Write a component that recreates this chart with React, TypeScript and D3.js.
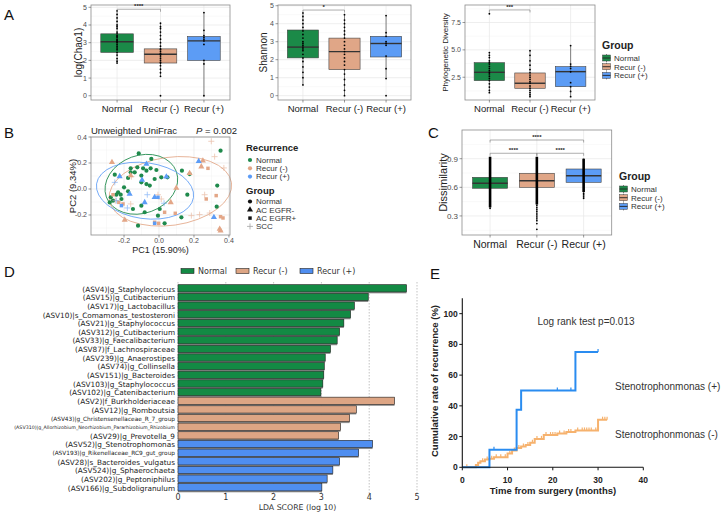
import React from 'react';
import * as d3 from 'd3';

const FONT = "'Liberation Sans', Arial, Helvetica, sans-serif";
const DV = "'DejaVu Sans', Verdana, sans-serif";

const groups = ['Normal', 'Recur (-)', 'Recur (+)'];
const boxColors = ['#1b8a48', '#e0a687', '#5c9cf5'];

// Panel A: [min, q1, median, q3, max]
const chaoStats = [[1.85, 2.45, 3.05, 3.5, 4.8], [1.1, 1.85, 2.35, 2.65, 4.1], [0, 2.0, 3.1, 3.35, 4.7]];
const chaoDots = [
  [1.85, 1.95, 2.1, 2.3, 2.45, 2.6, 2.7, 2.8, 2.9, 3.0, 3.05, 3.1, 3.15, 3.2, 3.3, 3.35, 3.4, 3.5, 3.6, 3.8, 3.9, 4.0, 4.2, 4.4, 4.6, 4.8],
  [0, 1.1, 1.3, 1.5, 1.7, 1.85, 1.9, 2.0, 2.1, 2.2, 2.3, 2.35, 2.4, 2.5, 2.6, 2.65, 2.8, 3.0, 3.2, 3.4, 3.6, 3.8, 3.9, 4.1],
  [0, 1.8, 2.0, 2.9, 3.1, 3.2, 3.3, 3.4, 3.7, 4.7],
];
const shannonStats = [[0.6, 2.1, 2.7, 3.65, 4.6], [0, 1.45, 2.45, 3.2, 4.5], [0.95, 2.15, 2.9, 3.3, 4.45]];
const shannonDots = [
  [0.6, 1.0, 1.3, 1.6, 1.9, 2.1, 2.3, 2.5, 2.6, 2.7, 2.8, 2.9, 3.0, 3.2, 3.4, 3.6, 3.8, 4.0, 4.2, 4.4, 4.6],
  [0, 0.3, 0.6, 0.9, 1.2, 1.45, 1.7, 1.9, 2.1, 2.3, 2.45, 2.6, 2.8, 3.0, 3.2, 3.4, 3.6, 3.8, 4.0, 4.2, 4.5],
  [0, 0.95, 1.5, 2.2, 2.8, 2.9, 3.0, 3.3, 3.5, 4.45],
];
const pdStats = [[1.09, 2.19, 2.95, 3.83, 4.75], [0.72, 1.49, 1.95, 2.89, 4.93], [0.72, 1.64, 3.01, 3.47, 5.39]];
const pdDots = [
  [1.09, 1.3, 1.6, 1.9, 2.2, 2.4, 2.6, 2.8, 2.95, 3.1, 3.3, 3.5, 3.7, 3.83, 4.0, 4.3, 4.5, 4.75, 8.3],
  [0.72, 0.9, 1.1, 1.3, 1.5, 1.7, 1.95, 2.1, 2.3, 2.5, 2.7, 2.9, 3.2, 3.6, 4.0, 4.5, 4.93],
  [0.72, 1.2, 1.64, 2.0, 3.0, 3.3, 3.5, 3.7, 5.39],
];

// Panel C
const dissStats = [[0.38, 0.59, 0.642, 0.705, 0.921], [0.414, 0.60, 0.669, 0.747, 0.921], [0.485, 0.652, 0.722, 0.792, 0.904]];
const dissDense = [[0.39, 0.92], [0.42, 0.92], [0.55, 0.9]];
const dissDots = [
  [0.38, 0.4, 0.42],
  [0.16, 0.22, 0.25, 0.27, 0.29, 0.31, 0.33, 0.35, 0.37, 0.39, 0.41],
  [0.485, 0.5, 0.52, 0.535],
];

// Panel B: [PC1, PC2, recurrence index, group index]
const recurrenceNames = ['Normal', 'Recur (-)', 'Recur (+)'];
const shapeGroups = ['Normal', 'AC EGFR-', 'AC EGFR+', 'SCC'];
const scatterColors = ['#1f8a4c', '#e3a687', '#5c9cf6'];
const pcoaPoints = [
  [-0.116, 0.274, 0, 0], [-0.044, 0.231, 0, 0], [-0.162, 0.159, 0, 0], [-0.124, 0.167, 0, 0], [-0.091, 0.159, 0, 0],
  [-0.048, 0.159, 0, 0], [-0.162, 0.128, 0, 0], [-0.139, 0.128, 0, 0], [-0.101, 0.103, 0, 0], [-0.072, 0.141, 0, 0],
  [-0.015, 0.146, 0, 0], [-0.025, 0.077, 0, 0], [-0.101, 0.051, 0, 0], [-0.072, 0.038, 0, 0], [-0.053, 0.026, 0, 0],
  [0.013, 0.09, 0, 0], [0.048, 0.09, 0, 0], [0.131, 0.141, 0, 0], [0.175, 0.115, 0, 0], [-0.2, 0.013, 0, 0],
  [-0.177, -0.018, 0, 0], [-0.234, -0.026, 0, 0], [-0.244, -0.044, 0, 0], [-0.215, -0.077, 0, 0], [-0.276, -0.064, 0, 0],
  [-0.282, -0.103, 0, 0], [-0.263, -0.09, 0, 0], [-0.101, -0.128, 0, 0], [-0.149, -0.154, 0, 0], [-0.082, -0.179, 0, 0],
  [0.004, -0.154, 0, 0], [-0.006, -0.205, 0, 0], [0.032, -0.264, 0, 0], [-0.12, -0.282, 0, 0], [0.162, -0.044, 0, 0],
  [0.352, 0.295, 0, 0], [0.333, 0.026, 0, 0], [0.33, -0.136, 0, 0], [0.128, -0.218, 0, 0], [-0.177, 0.085, 0, 0],
  [-0.253, 0.11, 0, 0], [-0.219, -0.044, 0, 0],
  [-0.269, 0.205, 1, 1], [0.242, 0.172, 1, 1], [0.175, 0.121, 1, 1], [-0.196, -0.238, 1, 1], [0.099, 0.008, 1, 1],
  [0.067, -0.103, 1, 1], [-0.162, 0.103, 1, 1], [0.347, -0.308, 1, 1], [0.352, -0.321, 1, 1], [0.251, 0.218, 1, 1],
  [-0.263, -0.044, 1, 2], [-0.23, -0.103, 1, 2], [-0.206, -0.115, 1, 2], [0.327, -0.051, 1, 2], [0.27, -0.077, 1, 2],
  [0.032, -0.179, 1, 2], [-0.025, -0.256, 1, 2], [-0.002, -0.264, 1, 2], [0.352, -0.213, 1, 2], [0.366, -0.223, 1, 2],
  [0.093, -0.187, 1, 2], [0.28, 0.159, 1, 2],
  [0.299, 0.367, 1, 3], [0.318, 0.249, 1, 3], [0.371, 0.162, 1, 3], [0.261, -0.044, 1, 3], [-0.006, -0.044, 1, 3],
  [0.013, -0.077, 1, 3], [0.185, -0.205, 1, 3], [0.232, -0.197, 1, 3], [0.29, -0.185, 1, 3], [-0.162, -0.115, 1, 3],
  [-0.25, -0.09, 1, 3], [-0.158, 0.095, 1, 3],
  [-0.225, 0.097, 2, 1], [0.227, 0.213, 2, 1], [-0.097, 0.069, 2, 1], [-0.025, -0.064, 2, 1], [-0.082, -0.103, 2, 1],
  [0.042, 0.095, 2, 1], [0.314, -0.218, 2, 1], [-0.072, 0.192, 2, 1], [-0.168, -0.038, 2, 1],
  [-0.215, -0.128, 2, 2], [-0.025, -0.264, 2, 2], [-0.006, -0.064, 2, 2],
  [-0.253, 0.051, 2, 3], [-0.244, -0.09, 2, 3], [-0.067, -0.044, 2, 3], [0.029, -0.11, 2, 3], [-0.181, -0.146, 2, 3],
];
// confidence ellipses: [cx, cy, rx, ry, angle]
const pcoaEllipses = [
  [-0.101, 0.036, 0.213, 0.222, -20],
  [0.065, -0.018, 0.353, 0.262, -8],
  [-0.08, -0.013, 0.28, 0.215, 8],
];

// Panel D
const ldaLabels = [
  '(ASV4)|g_Staphylococcus', '(ASV15)|g_Cutibacterium', '(ASV17)|g_Lactobacillus', '(ASV10)|s_Comamonas_testosteroni',
  '(ASV21)|g_Staphylococcus', '(ASV312)|g_Cutibacterium', '(ASV33)|g_Faecalibacterium', '(ASV87)|f_Lachnospiraceae',
  '(ASV239)|g_Anaerostipes', '(ASV74)|g_Collinsella', '(ASV151)|g_Bacteroides', '(ASV103)|g_Staphylococcus',
  '(ASV102)|g_Catenibacterium', '(ASV2)|f_Burkholderiaceae', '(ASV12)|g_Romboutsia', '(ASV43)|g_Christensenellaceae_R_7_group',
  '(ASV310)|g_Allorhizobium_Neorhizobium_Pararhizobium_Rhizobium', '(ASV29)|g_Prevotella_9', '(ASV52)|g_Stenotrophomonas',
  '(ASV193)|g_Rikenellaceae_RC9_gut_group', '(ASV28)|s_Bacteroides_vulgatus', '(ASV524)|g_Sphaerochaeta',
  '(ASV202)|g_Peptoniphilus', '(ASV166)|g_Subdoligranulum',
];
const ldaScores = [4.78, 3.98, 3.69, 3.61, 3.47, 3.38, 3.33, 3.19, 3.08, 3.06, 3.05, 3.03, 2.99, 4.53, 3.73, 3.59, 3.40, 3.36, 4.07, 3.78, 3.38, 3.24, 3.12, 3.01];
const ldaGroup = [0, 0, 0, 0, 0, 0, 0, 0, 0, 0, 0, 0, 0, 1, 1, 1, 1, 1, 2, 2, 2, 2, 2, 2];
const ldaColors = ['#138a44', '#dda584', '#4f8ef0'];
const ldaTicks = [0, 1, 2, 3, 4, 5];

// Panel E
const posSteps = [[0, 0], [6, 11.5], [12, 37.5], [13, 50], [25, 75], [30, 75]];
const posCensor = [7, 21, 24, 30];
const negSteps = [[0, 0], [3, 1.5], [3.5, 3], [4, 4], [5, 5], [6, 5.5], [7, 6.5], [10, 9], [11, 11], [12, 12.5], [13, 13.5], [14, 14.5], [15, 16], [16, 18.5], [18, 21], [21, 22], [23, 23], [25, 24], [30, 31], [32, 31]];
const negCensor = [1, 4.5, 5.5, 6.5, 7.5, 8.5, 9.5, 10.5, 11.5, 12.5, 13.5, 14.5, 15.5, 16.5, 17.5, 18.5, 19.5, 20, 20.5, 21.5, 22.5, 23.5, 24, 25.5, 26.5, 27, 27.5, 28, 28.5, 29.5, 31, 31.5, 32];
const kmXTicks = [0, 10, 20, 30, 40];
const kmYTicks = [0, 20, 40, 60, 80, 100];

function BoxPanel(p: any) {
  const x = d3.scalePoint<string>().domain(groups).range([p.left, p.right]).padding(0.6);
  const y = d3.scaleLinear().domain(p.domain).range([p.bottom, p.top]);
  const bw = x.step() * 0.75;
  return (
    <g>
      {p.minor.map((t: number) => (
        <line key={'m' + t} x1={p.left} x2={p.right} y1={y(t)} y2={y(t)} stroke="#f2f2f2" strokeWidth={0.5} />
      ))}
      {p.ticks.map((t: number) => (
        <line key={'t' + t} x1={p.left} x2={p.right} y1={y(t)} y2={y(t)} stroke="#e6e6e6" strokeWidth={0.7} />
      ))}
      {groups.map((g) => (
        <line key={'v' + g} x1={x(g)} x2={x(g)} y1={p.top} y2={p.bottom} stroke="#e6e6e6" strokeWidth={0.7} />
      ))}
      {p.stats.map((s: number[], i: number) => {
        const cx = x(groups[i])!;
        return (
          <g key={'b' + i}>
            <line x1={cx} x2={cx} y1={y(s[0])} y2={y(s[4])} stroke="#333" strokeWidth={0.6} />
            <rect x={cx - bw / 2} y={y(s[3])} width={bw} height={y(s[1]) - y(s[3])} fill={boxColors[i]} stroke="#444" strokeWidth={0.6} />
            <line x1={cx - bw / 2} x2={cx + bw / 2} y1={y(s[2])} y2={y(s[2])} stroke="#333" strokeWidth={1.4} />
          </g>
        );
      })}
      {p.dense && p.dense.map((r: number[], i: number) => (
        <rect key={'d' + i} x={x(groups[i])! - 1.3} y={y(r[1])} width={2.6} height={y(r[0]) - y(r[1])} fill="#000" />
      ))}
      {p.dots.map((arr: number[], i: number) =>
        arr.map((v, j) => <circle key={'p' + i + '_' + j} cx={x(groups[i])} cy={y(v)} r={0.9} fill="#000" />)
      )}
      <rect x={p.left} y={p.top} width={p.right - p.left} height={p.bottom - p.top} fill="none" stroke="#8c8c8c" strokeWidth={0.8} />
      {p.ticks.map((t: number) => (
        <g key={'l' + t}>
          <line x1={p.left - 2.5} x2={p.left} y1={y(t)} y2={y(t)} stroke="#555" strokeWidth={0.6} />
          <text x={p.left - 4} y={y(t) + p.tickSize * 0.35} fontSize={p.tickSize} fill="#4d4d4d" textAnchor="end">{p.fmt(t)}</text>
        </g>
      ))}
      {groups.map((g) => (
        <g key={'x' + g}>
          <line x1={x(g)} x2={x(g)} y1={p.bottom} y2={p.bottom + 2.5} stroke="#555" strokeWidth={0.6} />
          <text x={x(g)} y={p.labelY} fontSize={p.labelSize} fill="#222" textAnchor="middle">{g}</text>
        </g>
      ))}
      <text transform={`translate(${p.titleX},${(p.top + p.bottom) / 2}) rotate(-90)`} fontSize={p.titleSize} fill="#222" textAnchor="middle">{p.title}</text>
      {p.brackets.map((b: any, k: number) => {
        const x1 = x(groups[b.a])!, x2 = x(groups[b.b])!, yy = y(b.v);
        return (
          <g key={'br' + k}>
            <path d={`M${x1},${yy + 2.5}V${yy}H${x2}V${yy + 2.5}`} fill="none" stroke="#777" strokeWidth={0.6} />
            <text x={(x1 + x2) / 2} y={yy - 1.2} fontSize={6} fontWeight="bold" fill="#222" textAnchor="middle">{b.label}</text>
          </g>
        );
      })}
    </g>
  );
}

function BoxLegend({ x, y }: { x: number; y: number }) {
  return (
    <g>
      <text x={x} y={y} fontSize={10.5} fontWeight="bold" fill="#222">Group</text>
      {groups.map((g, i) => {
        const cy = y + 9 + i * 8.7;
        return (
          <g key={g}>
            <line x1={x + 4.5} x2={x + 4.5} y1={cy - 4} y2={cy + 4} stroke="#333" strokeWidth={0.6} />
            <rect x={x + 0.5} y={cy - 3} width={8} height={6} fill={boxColors[i]} stroke="#444" strokeWidth={0.5} />
            <line x1={x + 0.5} x2={x + 8.5} y1={cy} y2={cy} stroke="#222" strokeWidth={0.9} />
            <text x={x + 12} y={cy + 3} fontSize={8} fill="#333">{g}</text>
          </g>
        );
      })}
    </g>
  );
}

function Marker({ shape, cx, cy, color }: any) {
  if (shape === 0) return <circle cx={cx} cy={cy} r={2.1} fill={color} />;
  if (shape === 1) return <path transform={`translate(${cx},${cy})`} d={d3.symbol(d3.symbolTriangle, 16)()!} fill={color} />;
  if (shape === 2) return <path transform={`translate(${cx},${cy})`} d={d3.symbol(d3.symbolSquare, 12)()!} fill={color} />;
  return <path d={`M${cx - 3},${cy}H${cx + 3}M${cx},${cy - 3}V${cy + 3}`} stroke={color} strokeWidth={0.8} opacity={0.65} />;
}

function PanelB() {
  const L = 91, R = 230, T = 137, B = 235;
  const bx = d3.scaleLinear().domain([-0.389, 0.406]).range([L, R]);
  const by = d3.scaleLinear().domain([-0.354, 0.4]).range([B, T]);
  const ticks = [-0.2, 0, 0.2, 0.4];
  const minor = [-0.3, -0.1, 0.1, 0.3];
  const sx = bx(1) - bx(0), sy = by(0) - by(1);
  return (
    <g>
      {minor.map((t) => (
        <g key={'m' + t}>
          <line x1={bx(t)} x2={bx(t)} y1={T} y2={B} stroke="#f2f2f2" strokeWidth={0.5} />
          <line x1={L} x2={R} y1={by(t)} y2={by(t)} stroke="#f2f2f2" strokeWidth={0.5} />
        </g>
      ))}
      {ticks.map((t) => (
        <g key={'t' + t}>
          <line x1={bx(t)} x2={bx(t)} y1={T} y2={B} stroke="#e6e6e6" strokeWidth={0.7} />
          <line x1={L} x2={R} y1={by(t)} y2={by(t)} stroke="#e6e6e6" strokeWidth={0.7} />
        </g>
      ))}
      {pcoaEllipses.map((e, i) => (
        <ellipse key={'e' + i} transform={`translate(${bx(e[0])},${by(e[1])}) rotate(${e[4]})`} rx={e[2] * sx} ry={e[3] * sy} fill="none" stroke={scatterColors[i]} strokeWidth={0.8} />
      ))}
      {pcoaPoints.map((p, i) => (
        <Marker key={i} shape={p[3]} cx={bx(p[0])} cy={by(p[1])} color={scatterColors[p[2]]} />
      ))}
      <rect x={L} y={T} width={R - L} height={B - T} fill="none" stroke="#8c8c8c" strokeWidth={0.8} />
      {ticks.map((t) => (
        <g key={'l' + t}>
          <line x1={bx(t)} x2={bx(t)} y1={B} y2={B + 2.5} stroke="#555" strokeWidth={0.6} />
          <text x={bx(t)} y={B + 8} fontSize={7} fill="#4d4d4d" textAnchor="middle">{t.toFixed(1)}</text>
          <line x1={L - 2.5} x2={L} y1={by(t)} y2={by(t)} stroke="#555" strokeWidth={0.6} />
          <text x={L - 4} y={by(t) + 2.5} fontSize={7} fill="#4d4d4d" textAnchor="end">{t.toFixed(1)}</text>
        </g>
      ))}
      <text x={(L + R) / 2} y={253} fontSize={9} fill="#222" textAnchor="middle">PC1 (15.90%)</text>
      <text transform={`translate(76,${(T + B) / 2}) rotate(-90)`} fontSize={9.5} fill="#222" textAnchor="middle">PC2 (9.34%)</text>
      <text x={L} y={134} fontSize={9.5} fill="#222">Unweighted UniFrac</text>
      <text x={237} y={134} fontSize={9.5} fill="#222" textAnchor="end"><tspan fontStyle="italic">P</tspan> = 0.002</text>
      <text x={246} y={151} fontSize={9.5} fontWeight="bold" fill="#222">Recurrence</text>
      {recurrenceNames.map((n, i) => (
        <g key={n}>
          <circle cx={250} cy={160 + i * 8.3} r={2.1} fill={scatterColors[i]} />
          <text x={256} y={162.8 + i * 8.3} fontSize={8} fill="#333">{n}</text>
        </g>
      ))}
      <text x={246} y={194} fontSize={9.5} fontWeight="bold" fill="#222">Group</text>
      {shapeGroups.map((n, i) => (
        <g key={n}>
          <Marker shape={i} cx={250} cy={201.5 + i * 8.3} color={i === 3 ? '#777' : '#111'} />
          <text x={256} y={204.3 + i * 8.3} fontSize={8} fill="#333">{n}</text>
        </g>
      ))}
    </g>
  );
}

function PanelD() {
  const x = d3.scaleLinear().domain([0, 5]).range([178, 417]);
  const y = d3.scaleBand<string>().domain(ldaLabels).range([284.7, 492.3]).paddingInner(0);
  const h = y.bandwidth();
  const legend = ['Normal', 'Recur (-)', 'Recur (+)'];
  const legX = [181, 236, 300];
  return (
    <g fontFamily={DV}>
      {legend.map((n, i) => (
        <g key={n}>
          <rect x={legX[i]} y={268.5} width={13} height={5} fill={ldaColors[i]} stroke="#222" strokeWidth={0.6} />
          <text x={legX[i] + 17} y={274} fontSize={8} fill="#333">{n}</text>
        </g>
      ))}
      {ldaTicks.map((t) => (
        <line key={'g' + t} x1={x(t)} x2={x(t)} y1={282} y2={494} stroke="#9a9a9a" strokeWidth={0.6} strokeDasharray="1.5,1.5" />
      ))}
      {ldaLabels.map((l, i) => {
        const yy = y(l)!;
        const fs = l.length > 50 ? 4.75 : l.length > 35 ? 5.8 : 7.3;
        return (
          <g key={l}>
            <rect x={x(0)} y={yy} width={x(ldaScores[i]) - x(0)} height={h} fill="#8d8d8d" />
            <rect x={x(0)} y={yy} width={x(ldaScores[i]) - x(0)} height={h - 1.4} fill={ldaColors[ldaGroup[i]]} stroke="#2a2a2a" strokeWidth={0.6} />
            <text x={175} y={yy + h / 2 + fs * 0.35} fontSize={fs} fill="#222" textAnchor="end">{l}</text>
          </g>
        );
      })}
      {ldaTicks.map((t) => (
        <text key={'l' + t} x={x(t)} y={500} fontSize={8} fill="#333" textAnchor="middle">{t}</text>
      ))}
      <text x={x(2.5)} y={510} fontSize={7.8} fill="#333" textAnchor="middle">LDA SCORE (log 10)</text>
    </g>
  );
}

function PanelE() {
  const x = d3.scaleLinear().domain([0, 40]).range([462.3, 643.3]);
  const y = d3.scaleLinear().domain([0, 110]).range([467.3, 298.3]);
  const line = d3.line<number[]>().x((d) => x(d[0])).y((d) => y(d[1])).curve(d3.curveStepAfter);
  const stepVal = (steps: number[][], t: number) => {
    let v = 0;
    for (const s of steps) if (s[0] <= t) v = s[1];
    return v;
  };
  return (
    <g>
      <path d={line(negSteps as any)!} fill="none" stroke="#f6b26e" strokeWidth={2} />
      {negCensor.map((t, i) => (
        <line key={'n' + i} x1={x(t)} x2={x(t)} y1={y(stepVal(negSteps, t))} y2={y(stepVal(negSteps, t)) - 3} stroke="#f6b26e" strokeWidth={1.2} />
      ))}
      <path d={line(posSteps as any)!} fill="none" stroke="#2a8cf0" strokeWidth={2} />
      {posCensor.map((t, i) => (
        <line key={'p' + i} x1={x(t)} x2={x(t)} y1={y(stepVal(posSteps, t))} y2={y(stepVal(posSteps, t)) - 3} stroke="#2a8cf0" strokeWidth={1.2} />
      ))}
      <line x1={x(0)} x2={x(0)} y1={y(0)} y2={y(110)} stroke="#111" strokeWidth={1.1} />
      <line x1={x(0)} x2={x(40)} y1={y(0)} y2={y(0)} stroke="#111" strokeWidth={1.1} />
      {kmYTicks.map((t) => (
        <g key={'y' + t}>
          <line x1={x(0) - 3} x2={x(0)} y1={y(t)} y2={y(t)} stroke="#111" strokeWidth={1} />
          <text x={x(0) - 4.5} y={y(t) + 3} fontSize={8.5} fontWeight="bold" fill="#222" textAnchor="end">{t}</text>
        </g>
      ))}
      {kmXTicks.map((t) => (
        <g key={'x' + t}>
          <line x1={x(t)} x2={x(t)} y1={y(0)} y2={y(0) + 3} stroke="#111" strokeWidth={1} />
          <text x={x(t)} y={483} fontSize={8.5} fontWeight="bold" fill="#222" textAnchor="middle">{t}</text>
        </g>
      ))}
      <text x={553} y={494} fontSize={9.5} fontWeight="bold" fill="#222" textAnchor="middle">Time from surgery  (months)</text>
      <text transform={`translate(438,381) rotate(-90)`} fontSize={9.5} fontWeight="bold" fill="#222" textAnchor="middle">Cumulative rate of recurrence (%)</text>
      <text x={586} y={325} fontSize={10} fill="#333" textAnchor="middle">Log rank test p=0.013</text>
      <text x={615} y={390} fontSize={10} fill="#333">Stenotrophonmonas (+)</text>
      <text x={615} y={438} fontSize={10} fill="#333">Stenotrophonmonas (-)</text>
    </g>
  );
}

export default function App() {
  const f1 = d3.format('d');
  const f2 = d3.format('.1f');
  return (
    <svg width={723} height={522} style={{ position: 'absolute', left: 0, top: 0 }} fontFamily={FONT}>
      <rect width={723} height={522} fill="#fff" />
      <text x={4} y={20} fontSize={15} fill="#111">A</text>
      <BoxPanel left={91} right={230} top={5} bottom={100} domain={[-0.24, 5.13]} ticks={[0, 1, 2, 3, 4, 5]} minor={[0.5, 1.5, 2.5, 3.5, 4.5]} fmt={f1}
        stats={chaoStats} dots={chaoDots} title="log(Chao1)" titleX={82} titleSize={10} tickSize={7} labelSize={9.5} labelY={112}
        brackets={[{ a: 0, b: 1, v: 4.89, label: '****' }]} />
      <BoxPanel left={278} right={411} top={5} bottom={100} domain={[-0.24, 5.04]} ticks={[0, 1, 2, 3, 4, 5]} minor={[0.5, 1.5, 2.5, 3.5, 4.5]} fmt={f1}
        stats={shannonStats} dots={shannonDots} title="Shannon" titleX={267} titleSize={10} tickSize={7} labelSize={9.5} labelY={112}
        brackets={[{ a: 0, b: 1, v: 4.76, label: '*' }]} />
      <BoxPanel left={465} right={595} top={5} bottom={100} domain={[0.42, 9.1]} ticks={[2.5, 5, 7.5]} minor={[1.25, 3.75, 6.25, 8.75]} fmt={f2}
        stats={pdStats} dots={pdDots} title="Phylogenetic Diversity" titleX={448} titleSize={8} tickSize={7} labelSize={9.5} labelY={112}
        brackets={[{ a: 0, b: 1, v: 8.65, label: '***' }]} />
      <BoxLegend x={602} y={49} />

      <text x={4} y={138} fontSize={15} fill="#111">B</text>
      <PanelB />

      <text x={428} y={138} fontSize={15} fill="#111">C</text>
      <BoxPanel left={462} right={611.7} top={130} bottom={235} domain={[0.1, 1.201]} ticks={[0.3, 0.6, 0.9]} minor={[0.15, 0.45, 0.75, 1.05]} fmt={f2}
        stats={dissStats} dots={dissDots} dense={dissDense} title="Dissimilarity" titleX={447} titleSize={11} tickSize={8} labelSize={10.5} labelY={248}
        brackets={[{ a: 0, b: 1, v: 0.957, label: '****' }, { a: 1, b: 2, v: 0.957, label: '****' }, { a: 0, b: 2, v: 1.096, label: '****' }]} />
      <BoxLegend x={619} y={180} />

      <text x={4} y={277} fontSize={15} fill="#111">D</text>
      <PanelD />

      <text x={430} y={279} fontSize={15} fill="#111">E</text>
      <PanelE />
    </svg>
  );
}
